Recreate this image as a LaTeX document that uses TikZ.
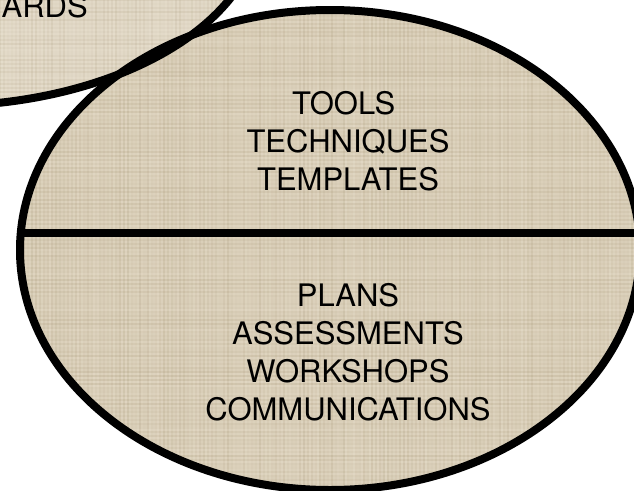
\documentclass[tikz,border=0pt]{standalone}
\usepackage{fontspec}
\setmainfont{TeX Gyre Heros}
\definecolor{bigfill}{HTML}{D9CEB8}
\definecolor{smallfill}{HTML}{E1D8C6}
\definecolor{weavedark}{HTML}{A89878}
\definecolor{weavelight}{HTML}{F4ECDC}
\begin{document}
\begin{tikzpicture}[x=1pt,y=-1pt,
  outline/.style={line width=8pt, draw=black},
  divider/.style={line width=8pt, draw=black},
  label/.style={inner sep=0pt, font=\fontsize{31}{38}\selectfont, align=center, text=black},
  weave/.style={line width=2pt}]
\useasboundingbox (0,0) rectangle (634,490);
\clip (0,0) rectangle (634,490);
\pgfmathsetseed{11}
% small ellipse (top left)
\begin{scope}
  \clip (-60,-80) ellipse [x radius=320pt, y radius=186pt];
  \fill[smallfill] (0,0) rectangle (634,490);
  \foreach \i in {0,4,...,260} {
    \pgfmathsetmacro\o{0.16*rnd}
    \draw[weave, draw=weavedark, opacity=\o] (\i,0) -- (\i,120);
    \pgfmathsetmacro\p{0.16*rnd}
    \draw[weave, draw=weavelight, opacity=\p] (\i+2,0) -- (\i+2,120);
  }
  \foreach \j in {0,4,...,120} {
    \pgfmathsetmacro\o{0.16*rnd}
    \draw[weave, draw=weavedark, opacity=\o] (0,\j) -- (260,\j);
    \pgfmathsetmacro\p{0.16*rnd}
    \draw[weave, draw=weavelight, opacity=\p] (0,\j+2) -- (260,\j+2);
  }
\end{scope}
% big ellipse
\begin{scope}
  \clip (330,250) ellipse [x radius=310pt, y radius=240pt];
  \fill[bigfill] (0,0) rectangle (634,490);
  \foreach \i in {0,4,...,636} {
    \pgfmathsetmacro\o{0.18*rnd}
    \draw[weave, draw=weavedark, opacity=\o] (\i,0) -- (\i,490);
    \pgfmathsetmacro\p{0.18*rnd}
    \draw[weave, draw=weavelight, opacity=\p] (\i+2,0) -- (\i+2,490);
  }
  \foreach \j in {0,4,...,490} {
    \pgfmathsetmacro\o{0.18*rnd}
    \draw[weave, draw=weavedark, opacity=\o] (0,\j) -- (636,\j);
    \pgfmathsetmacro\p{0.18*rnd}
    \draw[weave, draw=weavelight, opacity=\p] (0,\j+2) -- (636,\j+2);
  }
  \draw[divider] (0,233) -- (640,233);
\end{scope}
% outlines
\draw[outline] (-60,-80) ellipse [x radius=320pt, y radius=186pt];
\draw[outline] (330,250) ellipse [x radius=310pt, y radius=240pt];
% texts
\node[label, anchor=base east] (small) at (88,17) {ARDS};
\node[label, anchor=north] (upper) at (348,91) {TOOLS\kern8.6pt\\TECHNIQUES\\TEMPLATES};
\node[label, anchor=north] (lower) at (348,283) {PLANS\\ASSESSMENTS\\WORKSHOPS\\COMMUNICATIONS};
\end{tikzpicture}
\end{document}
